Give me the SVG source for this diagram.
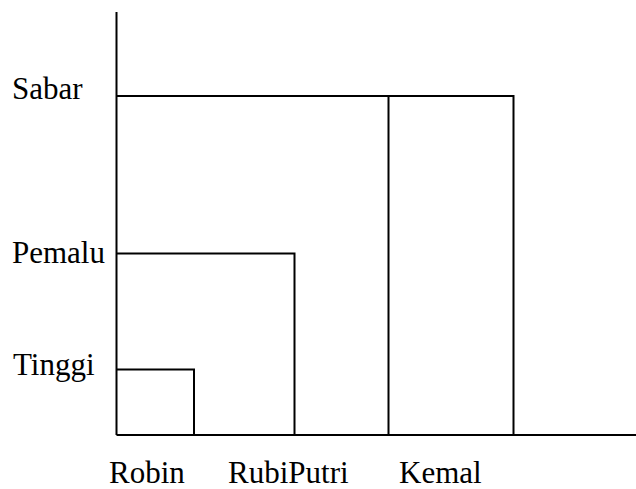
<svg xmlns="http://www.w3.org/2000/svg" width="636" height="489" viewBox="0 0 636 489">
  <style>
    .ln { stroke: #000; stroke-width: 2; fill: none; }
    .lbl { font-family: "Liberation Serif", "Times New Roman", serif; font-size: 31px; fill: #000; }
  </style>
  <rect width="636" height="489" fill="#fff"/>
  <!-- axes -->
  <g id="axes">
    <line class="ln" x1="116.5" y1="12" x2="116.5" y2="435"/>
    <line class="ln" x1="116.5" y1="435" x2="636" y2="435"/>
  </g>
  <!-- bracket connectors -->
  <g id="connectors">
    <polyline class="ln" points="116.5,96 513.5,96 513.5,435"/>
    <line class="ln" x1="388.5" y1="96" x2="388.5" y2="435"/>
    <polyline class="ln" points="116.5,253.5 294.5,253.5 294.5,435"/>
    <polyline class="ln" points="116.5,369.5 194,369.5 194,435"/>
  </g>
  <!-- row labels -->
  <g id="sabar"><text class="lbl" x="12" y="98.5">Sabar</text></g>
  <g id="pemalu"><text class="lbl" x="12" y="263">Pemalu</text></g>
  <g id="tinggi"><text class="lbl" x="13" y="375">Tinggi</text></g>
  <!-- column labels -->
  <g id="robin"><text class="lbl" x="109" y="483">Robin</text></g>
  <g id="rubiputri"><text class="lbl" x="228" y="483">RubiPutri</text></g>
  <g id="kemal"><text class="lbl" x="399" y="483">Kemal</text></g>
</svg>
